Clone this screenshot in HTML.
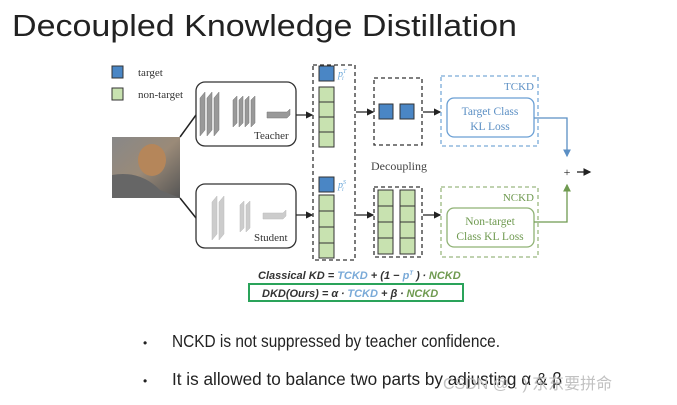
<!DOCTYPE html>
<html><head><meta charset="utf-8"><style>
html,body{margin:0;padding:0;background:#fff;}
svg{display:block;font-family:"Liberation Serif",serif;}
</style></head><body>
<svg width="677" height="405" viewBox="0 0 677 405" xmlns="http://www.w3.org/2000/svg">
<defs>
<marker id="ak" markerWidth="6" markerHeight="6" refX="5" refY="3" orient="auto"><path d="M0,0 L6,3 L0,6z" fill="#222"/></marker>
<marker id="ab" markerWidth="6" markerHeight="6" refX="5" refY="3" orient="auto"><path d="M0,0 L6,3 L0,6z" fill="#5b8fc4"/></marker>
<marker id="ag" markerWidth="6" markerHeight="6" refX="5" refY="3" orient="auto"><path d="M0,0 L6,3 L0,6z" fill="#6f9a50"/></marker>
<linearGradient id="tg" x1="0" y1="0" x2="1" y2="1"><stop offset="0" stop-color="#888"/><stop offset="0.5" stop-color="#9a8a78"/><stop offset="1" stop-color="#555"/></linearGradient>
</defs>
<text x="12" y="36" font-family="Liberation Sans, sans-serif" font-size="31" fill="#222" textLength="505" lengthAdjust="spacingAndGlyphs">Decoupled Knowledge Distillation</text>
<!-- legend -->
<rect x="112" y="66" width="11" height="12" fill="#4a86c5" stroke="#333"/>
<text x="138" y="76" font-size="11" fill="#333">target</text>
<rect x="112" y="88" width="11" height="12" fill="#c8e2b0" stroke="#333"/>
<text x="138" y="98" font-size="11" fill="#333">non-target</text>
<!-- tiger -->
<rect x="112" y="137" width="68" height="61" fill="url(#tg)"/>
<ellipse cx="152" cy="160" rx="14" ry="16" fill="#b5865a"/>
<path d="M112,175 Q140,170 160,190 L180,198 L112,198z" fill="#666"/>
<line x1="180" y1="137" x2="196" y2="115" stroke="#222" stroke-width="1.5"/>
<line x1="180" y1="198" x2="196" y2="218" stroke="#222" stroke-width="1.5"/>
<!-- teacher -->
<rect x="196" y="82" width="100" height="64" rx="9" fill="#fff" stroke="#333" stroke-width="1.3"/>
<g fill="#999" stroke="#777" stroke-width="0.5">
<path d="M200,98 l5,-6 v38 l-5,6z"/><path d="M207,98 l5,-6 v38 l-5,6z"/><path d="M214,98 l5,-6 v38 l-5,6z"/>
<path d="M233,100 l4,-4 v27 l-4,4z"/><path d="M239,100 l4,-4 v27 l-4,4z"/><path d="M245,100 l4,-4 v27 l-4,4z"/><path d="M251,100 l4,-4 v27 l-4,4z"/>
<path d="M267,112 h20 l3,-3 v6 l-3,3 h-20z"/>
</g>
<text x="254" y="139" font-size="11" fill="#333">Teacher</text>
<!-- student -->
<rect x="196" y="184" width="100" height="64" rx="9" fill="#fff" stroke="#333" stroke-width="1.3"/>
<g fill="#ccc" stroke="#bbb" stroke-width="0.5">
<path d="M212,202 l5,-6 v38 l-5,6z"/><path d="M219,202 l5,-6 v38 l-5,6z"/>
<path d="M240,205 l4,-4 v27 l-4,4z"/><path d="M246,205 l4,-4 v27 l-4,4z"/>
<path d="M263,213 h20 l3,-3 v6 l-3,3 h-20z"/>
</g>
<text x="254" y="241" font-size="11" fill="#333">Student</text>
<line x1="296" y1="115" x2="312" y2="115" stroke="#222" stroke-width="1.2" marker-end="url(#ak)"/>
<line x1="296" y1="215" x2="312" y2="215" stroke="#222" stroke-width="1.2" marker-end="url(#ak)"/>
<!-- probability column -->
<rect x="313" y="65" width="42" height="195" fill="none" stroke="#333" stroke-width="1.3" stroke-dasharray="4,3"/>
<rect x="319" y="66" width="15" height="15" fill="#4a86c5" stroke="#333"/>
<g fill="#c8e2b0" stroke="#333"><rect x="319" y="87" width="15" height="15"/><rect x="319" y="102" width="15" height="15"/><rect x="319" y="117" width="15" height="15"/><rect x="319" y="132" width="15" height="15"/></g>
<text x="338" y="77" font-size="10" font-style="italic" fill="#6aa6d8">p<tspan font-size="6" dy="-4">T</tspan><tspan font-size="6" dx="-4" dy="7">i</tspan></text>
<rect x="319" y="177" width="15" height="15" fill="#4a86c5" stroke="#333"/>
<g fill="#c8e2b0" stroke="#333"><rect x="319" y="195" width="15" height="16"/><rect x="319" y="211" width="15" height="16"/><rect x="319" y="227" width="15" height="16"/><rect x="319" y="243" width="15" height="15"/></g>
<text x="338" y="188" font-size="10" font-style="italic" fill="#6aa6d8">p<tspan font-size="6" dy="-4">S</tspan><tspan font-size="6" dx="-4" dy="7">i</tspan></text>
<line x1="356" y1="112" x2="373" y2="112" stroke="#222" stroke-width="1.2" marker-end="url(#ak)"/>
<line x1="356" y1="215" x2="373" y2="215" stroke="#222" stroke-width="1.2" marker-end="url(#ak)"/>
<!-- decoupling boxes -->
<rect x="374" y="78" width="48" height="67" fill="none" stroke="#333" stroke-width="1.3" stroke-dasharray="4,3"/>
<rect x="379" y="104" width="14" height="15" fill="#4a86c5" stroke="#333"/>
<rect x="400" y="104" width="14" height="15" fill="#4a86c5" stroke="#333"/>
<text x="371" y="170" font-size="12" fill="#444">Decoupling</text>
<rect x="374" y="187" width="48" height="70" fill="none" stroke="#333" stroke-width="1.3" stroke-dasharray="4,3"/>
<g fill="#c8e2b0" stroke="#333">
<rect x="378" y="190" width="15" height="16"/><rect x="378" y="206" width="15" height="16"/><rect x="378" y="222" width="15" height="16"/><rect x="378" y="238" width="15" height="16"/>
<rect x="400" y="190" width="15" height="16"/><rect x="400" y="206" width="15" height="16"/><rect x="400" y="222" width="15" height="16"/><rect x="400" y="238" width="15" height="16"/>
</g>
<line x1="423" y1="112" x2="440" y2="112" stroke="#222" stroke-width="1.2" marker-end="url(#ak)"/>
<line x1="423" y1="215" x2="440" y2="215" stroke="#222" stroke-width="1.2" marker-end="url(#ak)"/>
<!-- TCKD -->
<rect x="441" y="76" width="97" height="70" fill="none" stroke="#7aaad8" stroke-width="1.3" stroke-dasharray="4,3"/>
<text x="534" y="90" font-size="11" fill="#5b8fc4" text-anchor="end">TCKD</text>
<rect x="447" y="98" width="87" height="39" rx="7" fill="#fff" stroke="#6a9fd4" stroke-width="1.3"/>
<text x="490" y="115" font-size="11.5" fill="#5b8fc4" text-anchor="middle">Target Class</text>
<text x="490" y="130" font-size="11.5" fill="#5b8fc4" text-anchor="middle">KL Loss</text>
<!-- NCKD -->
<rect x="441" y="187" width="97" height="70" fill="none" stroke="#9ab880" stroke-width="1.3" stroke-dasharray="4,3"/>
<text x="534" y="201" font-size="11" fill="#6f9a50" text-anchor="end">NCKD</text>
<rect x="447" y="208" width="87" height="39" rx="7" fill="#fff" stroke="#8fb274" stroke-width="1.3"/>
<text x="490" y="225" font-size="11.5" fill="#6f9a50" text-anchor="middle">Non-target</text>
<text x="490" y="240" font-size="11.5" fill="#6f9a50" text-anchor="middle">Class KL Loss</text>
<polyline points="534,118 567,118 567,156" fill="none" stroke="#5b8fc4" stroke-width="1.3" marker-end="url(#ab)"/>
<polyline points="534,222 567,222 567,185" fill="none" stroke="#6f9a50" stroke-width="1.3" marker-end="url(#ag)"/>
<text x="567" y="176" font-size="12" fill="#222" text-anchor="middle">+</text>
<line x1="577" y1="172" x2="590" y2="172" stroke="#222" stroke-width="1.3" marker-end="url(#ak)"/>
<!-- formulas -->
<g font-family="Liberation Sans, sans-serif" font-size="11" font-weight="bold" font-style="italic">
<text x="258" y="279" fill="#333">Classical KD = <tspan fill="#7aaad8">TCKD</tspan> + (1 − <tspan fill="#7aaad8">p</tspan><tspan font-size="6" dy="-4" fill="#7aaad8">T</tspan><tspan dy="4"> ) ∙ </tspan><tspan fill="#6f9a50">NCKD</tspan></text>
<rect x="249" y="284" width="214" height="17" fill="none" stroke="#2aa35a" stroke-width="2"/>
<text x="262" y="297" fill="#333">DKD(Ours) = α ∙ <tspan fill="#7aaad8">TCKD</tspan> + β ∙ <tspan fill="#6f9a50">NCKD</tspan></text>
</g>
<!-- bullets -->
<g font-family="Liberation Sans, sans-serif" font-size="17.5" fill="#222">
<text x="143" y="347" font-size="12">•</text>
<text x="172" y="347" textLength="328" lengthAdjust="spacingAndGlyphs">NCKD is not suppressed by teacher confidence.</text>
<text x="143" y="385" font-size="12">•</text>
<text x="172" y="385" textLength="390" lengthAdjust="spacingAndGlyphs">It is allowed to balance two parts by adjusting α &amp; β</text>
</g>
<text x="443" y="389" font-family="Liberation Sans, 'Noto Sans CJK SC', sans-serif" font-size="16" fill="#bbb" opacity="0.9">CSDN @ . ) 东东要拼命</text>
</svg>
</body></html>
